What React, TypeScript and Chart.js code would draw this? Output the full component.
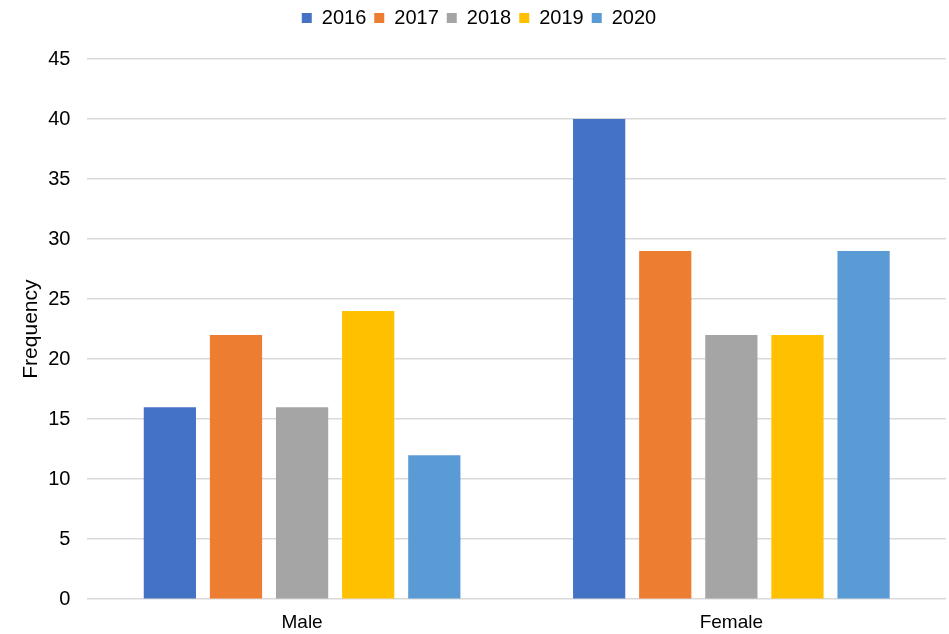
import React, { useEffect, useRef } from "react";
import { Chart, registerables } from "chart.js";
Chart.register(...registerables);

const categories = ["Male", "Female"];
const years = ["2016", "2017", "2018", "2019", "2020"];
const colors = ["#4472C4", "#ED7D31", "#A5A5A5", "#FFC000", "#5B9BD5"];
const v2016 = [16, 40];
const v2017 = [22, 29];
const v2018 = [16, 22];
const v2019 = [24, 22];
const v2020 = [12, 29];
const seriesValues = [v2016, v2017, v2018, v2019, v2020];
const yTicks = [0, 5, 10, 15, 20, 25, 30, 35, 40, 45];

export default function App() {
  const ref = useRef<HTMLCanvasElement>(null);
  useEffect(() => {
    document.body.style.margin = "0";
    const font = "'Liberation Sans', Arial, sans-serif";
    const legendMargin = {
      id: "legendMargin",
      beforeInit(chart: any) {
        const orig = chart.legend.fit;
        chart.legend.fit = function () {
          orig.call(this);
          this.height += 21;
        };
      },
    };
    const chart = new Chart(ref.current!, {
      type: "bar",
      data: {
        labels: categories,
        datasets: years.map((y, i) => ({
          label: y,
          data: seriesValues[i],
          backgroundColor: colors[i],
          barPercentage: 0.79,
          categoryPercentage: 0.77,
        })),
      },
      options: {
        animation: false,
        responsive: false,
        maintainAspectRatio: false,
        layout: { padding: { left: 12, right: 3, top: 0, bottom: -12 } },
        plugins: {
          tooltip: { enabled: false },
          legend: {
            position: "top",
            labels: {
              font: { family: font, size: 20 },
              color: "#000",
              boxWidth: 10,
              boxHeight: 10,
              padding: 8,
            },
          },
        },
        scales: {
          x: {
            grid: { display: false, drawTicks: false },
            border: { display: false },
            ticks: { font: { family: font, size: 19 }, color: "#000", padding: 12 },
          },
          y: {
            min: 0,
            max: 45,
            afterBuildTicks: (s: any) => {
              s.ticks = yTicks.map((v) => ({ value: v }));
            },
            grid: { color: "#d9d9d9", lineWidth: 1.5, drawTicks: false },
            border: { display: false },
            ticks: { font: { family: font, size: 20 }, color: "#000", padding: 17 },
            title: {
              display: true,
              text: "Frequency",
              font: { family: font, size: 21 },
              color: "#000",
              padding: { top: 7, bottom: -13 },
            },
          },
        },
      },
      plugins: [legendMargin],
    });
    return () => chart.destroy();
  }, []);
  return <canvas ref={ref} width={949} height={634} style={{ display: "block" }} />;
}
